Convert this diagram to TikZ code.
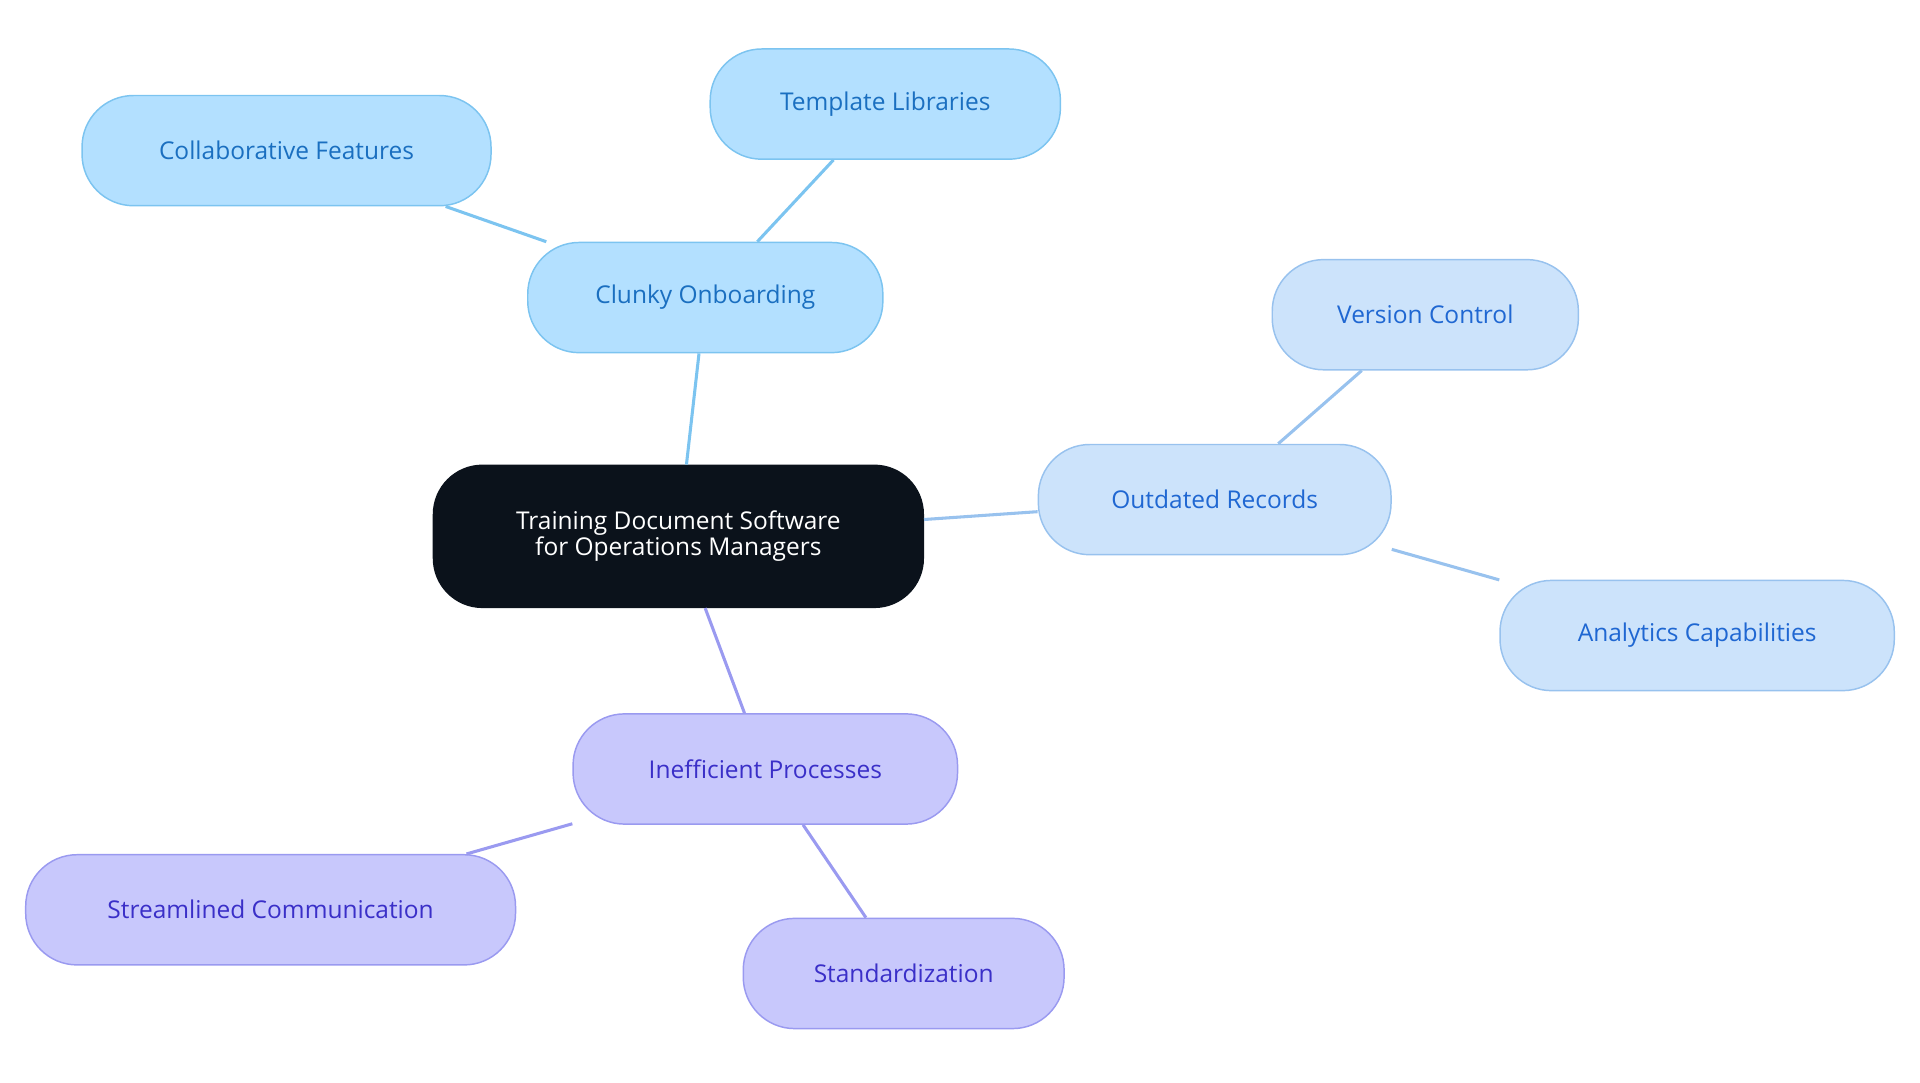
\documentclass[tikz,border=0pt]{standalone}
\usepackage{fontspec}
\setmainfont{Open Sans}
\definecolor{cfillA}{HTML}{B3E0FF}\definecolor{cdrawA}{HTML}{7CC4F0}\definecolor{ctextA}{HTML}{1A6FC0}
\definecolor{cfillB}{HTML}{CCE3FB}\definecolor{cdrawB}{HTML}{98C2EE}\definecolor{ctextB}{HTML}{1F67D2}
\definecolor{cfillC}{HTML}{C8C8FC}\definecolor{cdrawC}{HTML}{9A9AF0}\definecolor{ctextC}{HTML}{3A2FC8}
\definecolor{cdark}{HTML}{0B121B}
\begin{document}
\begin{tikzpicture}[x=1pt,y=-1pt,
 box/.style={rounded corners=42pt,line width=1.2pt,minimum height=90pt,inner sep=0pt,font=\fontsize{20}{24}\selectfont,align=center},
 ba/.style={box,fill=cfillA,draw=cdrawA,text=ctextA},
 bb/.style={box,fill=cfillB,draw=cdrawB,text=ctextB},
 bc/.style={box,fill=cfillC,draw=cdrawC,text=ctextC},
 la/.style={draw=cdrawA,line width=2.5pt},
 lb/.style={draw=cdrawB,line width=2.5pt},
 lc/.style={draw=cdrawC,line width=2.5pt}]
\useasboundingbox (0,0) rectangle (1568,884);
\node[box,fill=cdark,draw=cdark,text=white,minimum width=400pt,minimum height=116pt,rounded corners=40pt] (c) at (554,438) {Training Document Software\\[-3pt]for Operations Managers};
\node[ba,minimum width=290pt] (a) at (576,243) {Clunky Onboarding};
\node[ba,minimum width=334pt] (a1) at (234,123) {Collaborative Features};
\node[ba,minimum width=286pt] (a2) at (723,85) {Template Libraries};
\node[bb,minimum width=288pt] (b) at (992,408) {Outdated Records};
\node[bb,minimum width=250pt] (b1) at (1164,257) {Version Control};
\node[bb,minimum width=322pt] (b2) at (1386,519) {Analytics Capabilities};
\node[bc,minimum width=314pt] (i) at (625,628) {Inefficient Processes};
\node[bc,minimum width=400pt] (i1) at (221,743) {Streamlined Communication};
\node[bc,minimum width=262pt] (i2) at (738,795) {Standardization};
\draw[la] (c) -- (a); \draw[la] (a) -- (a1); \draw[la] (a) -- (a2);
\draw[lb] (c) -- (b); \draw[lb] (b) -- (b1); \draw[lb] (b) -- (b2);
\draw[lc] (c) -- (i); \draw[lc] (i) -- (i1); \draw[lc] (i) -- (i2);
\end{tikzpicture}
\end{document}
